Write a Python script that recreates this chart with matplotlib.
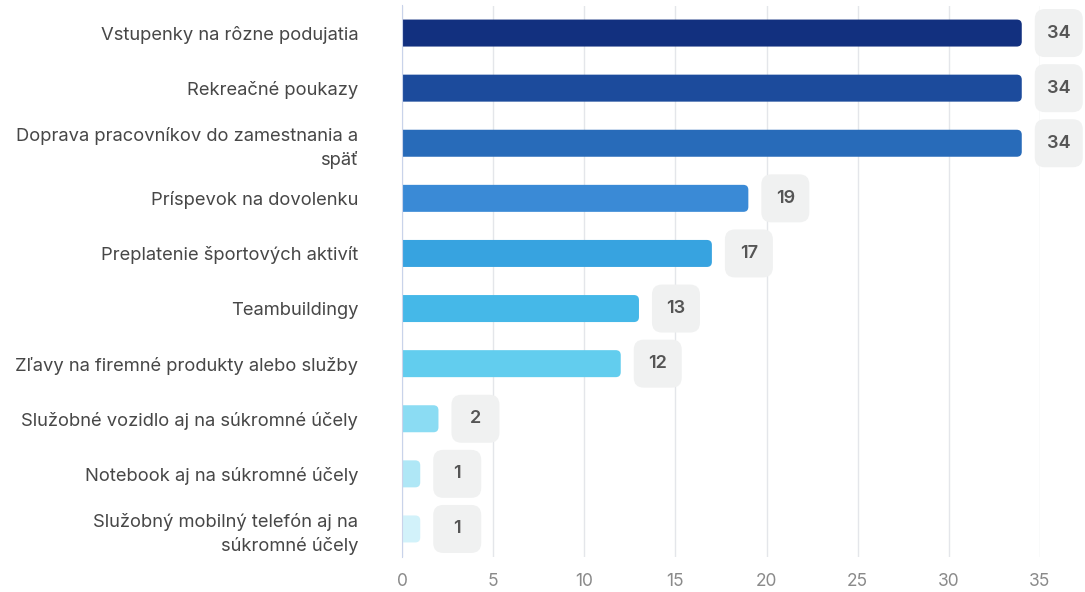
import numpy as np
import matplotlib.pyplot as plt
from matplotlib.patches import FancyBboxPatch

plt.rcParams['font.family'] = ['Inter', 'DejaVu Sans']

categories = [
    'Vstupenky na rôzne podujatia',
    'Rekreačné poukazy',
    'Doprava pracovníkov do zamestnania a\nspäť',
    'Príspevok na dovolenku',
    'Preplatenie športových aktivít',
    'Teambuildingy',
    'Zľavy na firemné produkty alebo služby',
    'Služobné vozidlo aj na súkromné účely',
    'Notebook aj na súkromné účely',
    'Služobný mobilný telefón aj na\nsúkromné účely',
]
values = [34, 34, 34, 19, 17, 13, 12, 2, 1, 1]
colors = ['#12307f', '#1c4b9c', '#286bb9', '#3a8ad6', '#37a3e0',
          '#45b8e8', '#62cdee', '#8bdcf3', '#afe7f6', '#d2f2fa']
xticks = [0, 5, 10, 15, 20, 25, 30, 35]

W, H = 1085, 592
fig = plt.figure(figsize=(W / 100, H / 100), dpi=100)
ax = fig.add_axes([402 / W, 1 - 556.5 / H, (1040 - 402) / W, 551 / H])

xmax = 35
ax.set_xlim(0, xmax)
n = len(values)
ax.set_ylim(n - 0.5, -0.5)

# pixel -> data scale factors
px_x = xmax / (1040 - 402)
px_y = 1 / 55.1
aspect = px_y / px_x

bar_h = 27 * px_y
for i, (v, c) in enumerate(zip(values, colors)):
    r = 5 * px_x
    p = FancyBboxPatch((-1, i - bar_h / 2), v + 1, bar_h,
                       boxstyle=f'round,pad=0,rounding_size={r}',
                       mutation_aspect=aspect, fc=c, ec='none', zorder=3)
    ax.add_patch(p)
    # value badge
    bw, bh = 48 * px_x, 48 * px_y
    cx = v + 37 * px_x
    b = FancyBboxPatch((cx - bw / 2, i - bh / 2), bw, bh,
                       boxstyle=f'round,pad=0,rounding_size={10 * px_x}',
                       mutation_aspect=aspect, fc='#f0f1f1', ec='none',
                       zorder=4, clip_on=False)
    ax.add_patch(b)
    ax.text(cx, i, str(v), ha='center', va='center', fontsize=13,
            fontweight='semibold', color='#555555', zorder=5)

ax.set_yticks(range(n))
ax.set_yticklabels(categories, fontsize=13.25, color='#474747',
                   linespacing=1.4)
ax.set_xticks(xticks)
ax.tick_params(axis='y', length=0, pad=31.5)
ax.tick_params(axis='x', length=0, pad=12, labelsize=12.5, labelcolor='#8a8a8a')

ax.grid(axis='x', color='#e4e6ea', linewidth=1, zorder=0)
ax.set_axisbelow(True)
for s in ['top', 'right', 'bottom']:
    ax.spines[s].set_visible(False)
ax.spines['left'].set_color('#c9d3ea')
ax.spines['left'].set_zorder(6)

fig.savefig('out.png', dpi=100)
